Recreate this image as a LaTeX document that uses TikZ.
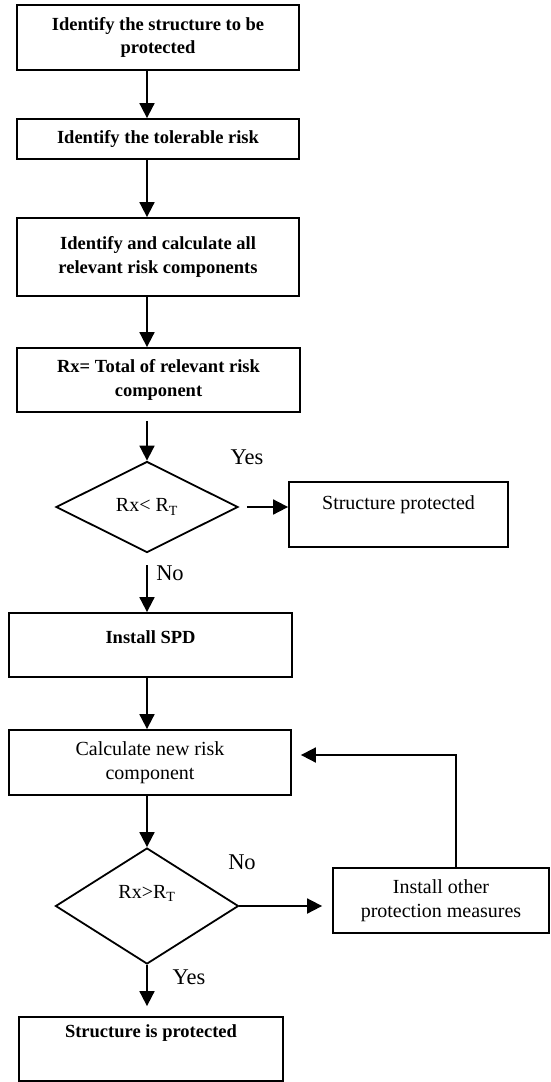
\documentclass[tikz,border=0pt]{standalone}
\usepackage{fontspec}
\setmainfont{Liberation Serif}
\usetikzlibrary{arrows.meta,shapes.geometric,calc}
\begin{document}
\begin{tikzpicture}[x=1pt,y=-1pt,
  box/.style={draw, line width=1.8pt, rectangle, inner sep=0pt, align=center},
  bt/.style={font=\fontsize{18.5}{23.5}\selectfont\bfseries, align=center},
  rt/.style={font=\fontsize{20}{23.5}\selectfont, align=center},
  lab/.style={font=\fontsize{22.5}{26}\selectfont},
  dia/.style={draw, diamond, line width=1.8pt, inner sep=0pt},
  arr/.style={line width=1.8pt, -{Triangle[length=15pt,width=15pt]}}
]
\useasboundingbox (0,0) rectangle (550,1082);

\node[box,bt,minimum width=282pt,minimum height=65pt] (b1) at (158,37.5) {Identify the structure to be\\protected};
\node[box,bt,minimum width=282pt,minimum height=40pt] (b2) at (158,139) {Identify the tolerable risk};
\node[box,bt,minimum width=282pt,minimum height=78pt] (b3) at (158,257) {Identify and calculate all\\relevant risk components};
\node[box,bt,minimum width=283pt,minimum height=64pt] (b4) at (158.5,380) {Rx= Total of relevant risk\\component};
\node[dia,rt,minimum width=182pt,minimum height=91pt] (d1) at (147,507) {Rx< R\textsubscript{T}};
\node[box,minimum width=219pt,minimum height=65pt] (sp) at (398.5,514.5) {};
\node[rt] (spt) at (398.5,505) {Structure protected};
\node[box,minimum width=283pt,minimum height=64pt] (spd) at (150.5,645) {};
\node[bt] (spdt) at (150.5,637) {Install SPD};
\node[box,rt,minimum width=282pt,minimum height=65pt] (calc) at (150,762.5) {Calculate new risk\\component};
\node[dia,minimum width=183pt,minimum height=116pt] (d2) at (147,906) {};
\node[rt] (d2t) at (147,893) {Rx>R\textsubscript{T}};
\node[box,rt,minimum width=216pt,minimum height=65pt] (io) at (441,900.5) {Install other\\protection measures};
\node[box,minimum width=264pt,minimum height=64pt] (sip) at (151,1049) {};
\node[bt] (sipt) at (151,1033) {Structure is protected};

\node[lab] (y1) at (247,457) {Yes};
\node[lab] (n1) at (170,573) {No};
\node[lab] (n2) at (242,862) {No};
\node[lab] (y2) at (189,977) {Yes};

\draw[arr] (b1.south -| d1.north) -- (b2.north -| d1.north);
\draw[arr] (b2.south -| d1.north) -- (b3.north -| d1.north);
\draw[arr] (b3.south -| d1.north) -- (b4.north -| d1.north);
\draw[arr, shorten <=8pt] (b4.south -| d1.north) -- (d1.north);
\draw[arr, shorten <=8pt] (d1.east) -- (d1.east -| sp.west);
\draw[arr, shorten <=12pt] (d1.south) -- (spd.north -| d1.south);
\draw[arr] (spd.south -| d1.north) -- (calc.north -| d1.north);
\draw[arr] (calc.south -| d1.north) -- (d2.north);
\draw[arr, shorten >=10pt] (d2.east) -- (d2.east -| io.west);
\draw[arr, shorten >=9pt] ([xshift=15pt]io.north) |- ([yshift=7.5pt]calc.east);
\draw[arr, shorten >=10pt] (d2.south) -- (sip.north -| d2.south);
\end{tikzpicture}
\end{document}
